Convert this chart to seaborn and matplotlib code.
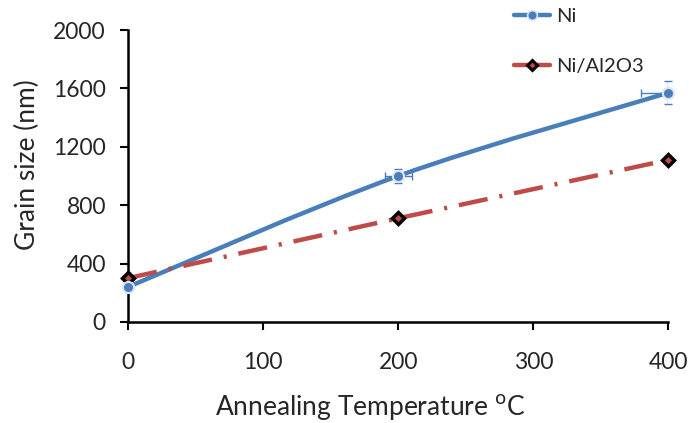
import matplotlib
matplotlib.use("Agg")
import matplotlib.pyplot as plt
from matplotlib.path import Path
from matplotlib.patches import PathPatch
from matplotlib.lines import Line2D
import seaborn as sns
import pandas as pd

temps = [0, 200, 400]
ni = [240, 1000, 1570]
ni_al2o3 = [300, 710, 1110]
ni_xerr = [0, 10, 20]
ni_yerr = [0, 50, 80]

sns.set_theme(style="white")
plt.rcParams['font.family'] = ['Lato', 'DejaVu Sans']

df = pd.DataFrame({"T": temps + temps,
                   "size": ni + ni_al2o3,
                   "series": ["Ni"] * 3 + ["Ni/Al2O3"] * 3})

fig = plt.figure(figsize=(6.89, 4.23), dpi=100)
ax = fig.add_axes([0.186, 0.239, 0.784, 0.690])

blue = "#4A7EBB"
red = "#BE4B48"

# Ni markers through seaborn; smoothed connecting curve drawn as a Bezier path
sns.lineplot(data=df[df.series == "Ni"], x="T", y="size", ax=ax, color=blue,
             lw=0, linestyle="", marker="o", markersize=8, markerfacecolor=blue,
             markeredgecolor="#dce6f2", markeredgewidth=1.5, errorbar=None,
             zorder=4)
pts = list(zip(temps, ni))
verts = [pts[0]]
codes = [Path.MOVETO]
for i in range(len(pts) - 1):
    p0 = pts[i - 1] if i > 0 else pts[i]
    p1 = pts[i]
    p2 = pts[i + 1]
    p3 = pts[i + 2] if i + 2 < len(pts) else pts[i + 1]
    c1 = (p1[0] + (p2[0] - p0[0]) / 6, p1[1] + (p2[1] - p0[1]) / 6)
    c2 = (p2[0] - (p3[0] - p1[0]) / 6, p2[1] - (p3[1] - p1[1]) / 6)
    verts += [c1, c2, p2]
    codes += [Path.CURVE4] * 3
ax.add_patch(PathPatch(Path(verts, codes), fill=False, edgecolor=blue,
                       lw=3.2, zorder=3, clip_on=False, capstyle="round"))

sns.lineplot(data=df[df.series == "Ni/Al2O3"], x="T", y="size", ax=ax, color=red,
             lw=3.2, linestyle=(0, (6.6, 2.7, 0.7, 2.7)), marker="D",
             markersize=6, markerfacecolor=red, markeredgecolor="black",
             markeredgewidth=2.5, errorbar=None, zorder=3)
ax.errorbar(temps, ni, xerr=ni_xerr, yerr=ni_yerr, fmt="none", ecolor=blue,
            elinewidth=1, capsize=3, zorder=2)

ax.set_xlim(0, 400)
ax.set_ylim(0, 2000)
ax.set_xticks([0, 100, 200, 300, 400])
ax.set_yticks([0, 400, 800, 1200, 1600, 2000])
ax.tick_params(axis="both", which="both", labelsize=16.5, length=6, width=1.5,
               direction="out", color="black", left=True, bottom=True)
ax.tick_params(axis="x", pad=16)
ax.tick_params(axis="y", pad=10)
for s in ["top", "right"]:
    ax.spines[s].set_visible(False)
for s in ["left", "bottom"]:
    ax.spines[s].set_color("black")
    ax.spines[s].set_linewidth(1.8)
ax.set_xlabel("Annealing Temperature ${}^{\\mathrm{o}}$C", fontsize=19)
ax.set_ylabel("Grain size (nm)", fontsize=19)
ax.xaxis.set_label_coords(0.448, -0.24)
ax.yaxis.set_label_coords(-0.163, 0.538)
ax.grid(False)
for ln in ax.lines:
    ln.set_clip_on(False)

if ax.legend_:
    ax.legend_.remove()
h = [Line2D([], [], color=blue, lw=3.2, marker="o", markersize=7,
            markerfacecolor=blue, markeredgecolor="#dce6f2", markeredgewidth=1.2),
     Line2D([], [], color=red, lw=3.2, marker="D", markersize=5,
            markerfacecolor=red, markeredgecolor="black", markeredgewidth=2.2)]
fig.legend(h, ["Ni", "Ni/Al2O3"], loc="upper left", bbox_to_anchor=(0.719, 1.023),
           frameon=False, fontsize=14.5, handlelength=1.8, labelspacing=1.6,
           handletextpad=0.3)

fig.savefig("out.png", dpi=100)
